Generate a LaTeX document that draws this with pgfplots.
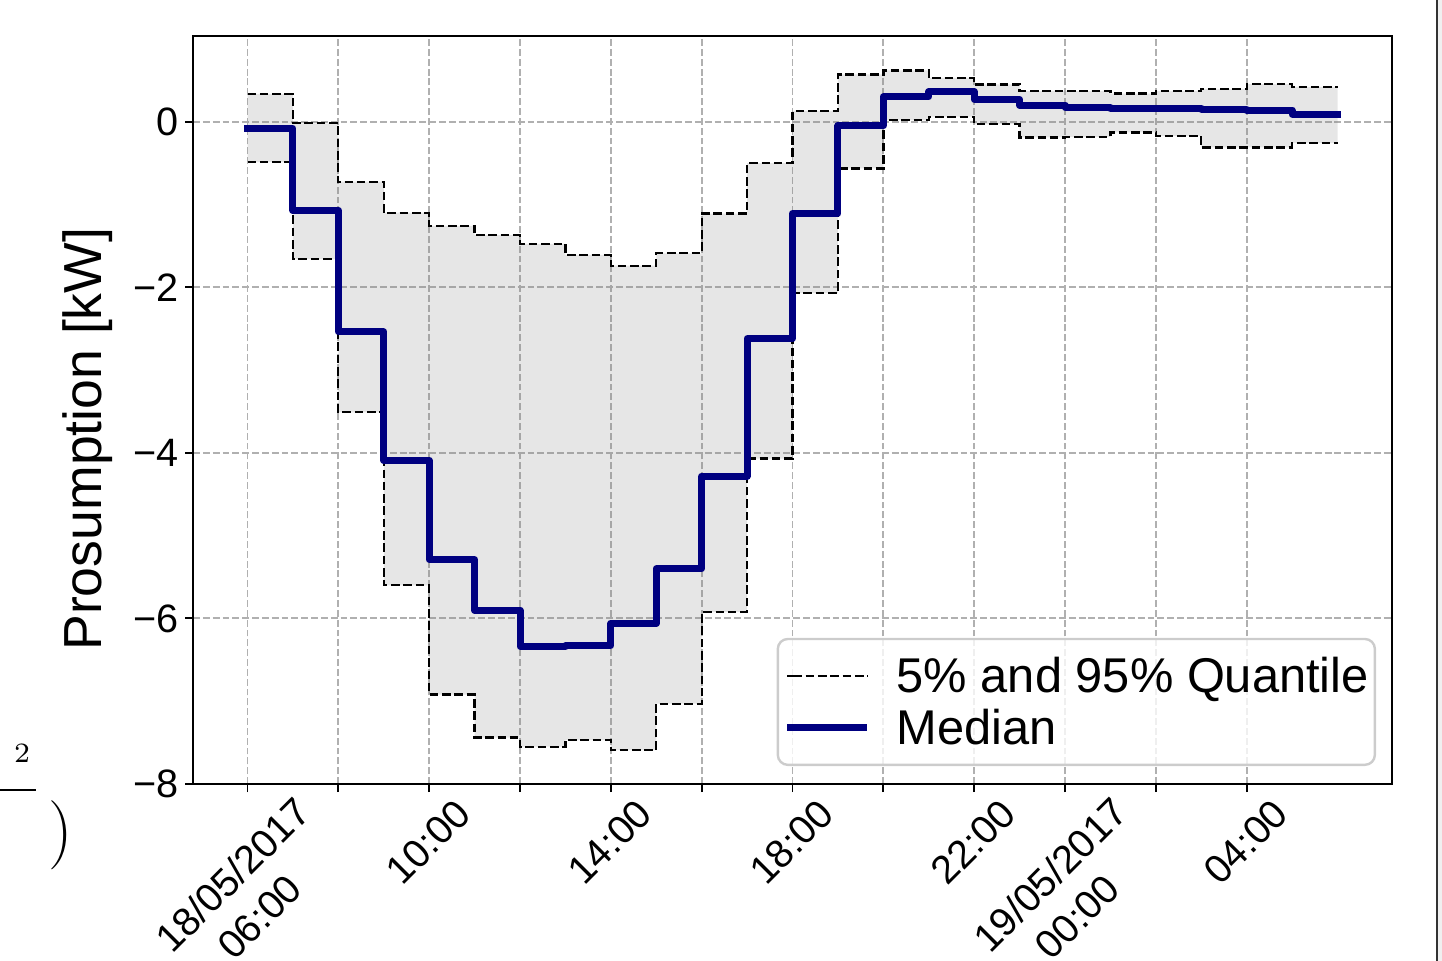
\documentclass[border=0pt]{standalone}
\usepackage{fontspec}
\setmainfont{Liberation Sans}
\usepackage{pgfplots}
\pgfplotsset{compat=1.18}
\usepgfplotslibrary{fillbetween}
\definecolor{gridgray}{HTML}{B0B0B0}
\definecolor{mednavy}{HTML}{000080}
\definecolor{leggray}{HTML}{CCCCCC}
\newcommand{\mi}{\symbol{"2212}}
\newcommand{\ls}{\rule[-0.25em]{0pt}{1.05em}}
\begin{document}
\begin{tikzpicture}
\begin{axis}[
  at={(0pt,0pt)}, anchor=south west,
  scale only axis,
  width=299.75pt, height=187pt,
  xmin=-1.2, xmax=25.2, ymin=-8, ymax=1.035,
  axis line style={black, line width=0.47pt},
  tick align=outside,
  major tick length=2pt,
  every tick/.style={black, line width=0.47pt},
  xtick pos=left, ytick pos=left,
  xtick={0,2,...,22},
  xticklabels={{},{},10:00,{},14:00,{},18:00,{},22:00,{},{},04:00},
  extra x ticks={0,18},
  extra x tick labels={{18/05/2017\\06:00\hspace*{5.5pt}},{19/05/2017\\00:00\hspace*{5.5pt}}},
  extra x tick style={xticklabel style={xshift=4.24pt, yshift=-3.18pt}},
  ytick={-8,-6,-4,-2,0},
  yticklabels={\mi8,\mi6,\mi4,\mi2,0},
  xticklabel style={font=\fontsize{9.9}{12.2}\selectfont, align=center, inner sep=0pt, xshift=6pt, yshift=-1pt, rotate=45, anchor=north east},
  yticklabel style={font=\fontsize{9.9}{11}\selectfont, inner sep=0pt, anchor=east, xshift=-1.5pt},
  grid=major,
  major grid style={gridgray, line width=0.47pt, dash pattern=on 1.72pt off 0.74pt},
  ylabel={Prosumption [kW]},
  ylabel style={font=\fontsize{13.4}{15}\selectfont, at={(axis description cs:-0.0876,0.461)}, anchor=center},
  legend cell align=left,
  legend image code/.code={\path (0pt,0pt) -- (1.5pt,0pt); \draw[#1] (1.5pt,0pt) -- (20pt,0pt);},
  legend style={at={(0.9867,0.024)}, anchor=south east, font=\fontsize{12.2}{13}\selectfont,
    draw=leggray, line width=0.6pt, rounded corners=2.5pt, fill=white, fill opacity=0.8,
    text opacity=1, draw opacity=1, inner xsep=1.5pt, inner ysep=3.6pt, row sep=1.75pt, column sep=6.5pt,
    nodes={inner sep=0pt}},
]
\addlegendimage{black, line width=0.58pt, dash pattern=on 2.15pt off 0.93pt}
\addlegendentry{\ls5\% and 95\% Quantile}
\addlegendimage{mednavy, line width=1.75pt}
\addlegendentry{\ls Median}

\addplot[const plot, name path=up, black, line width=0.58pt, dash pattern=on 2.15pt off 0.93pt, forget plot] coordinates {
(0,0.335) (1,-0.02) (2,-0.725) (3,-1.10) (4,-1.26) (5,-1.37) (6,-1.475) (7,-1.61)
(8,-1.74) (9,-1.59) (10,-1.11) (11,-0.50) (12,0.13) (13,0.57) (14,0.62) (15,0.53)
(16,0.45) (17,0.37) (18,0.37) (19,0.34) (20,0.37) (21,0.395) (22,0.455) (23,0.42) (24,0.42)};
\addplot[const plot, name path=lo, black, line width=0.58pt, dash pattern=on 2.15pt off 0.93pt, forget plot] coordinates {
(0,-0.49) (1,-1.66) (2,-3.51) (3,-5.60) (4,-6.92) (5,-7.44) (6,-7.55) (7,-7.47)
(8,-7.59) (9,-7.03) (10,-5.92) (11,-4.07) (12,-2.07) (13,-0.565) (14,0.02) (15,0.06)
(16,-0.03) (17,-0.19) (18,-0.185) (19,-0.13) (20,-0.17) (21,-0.31) (22,-0.31) (23,-0.26) (24,-0.26)};
\addplot[forget plot, fill=gray, fill opacity=0.2, draw=none] fill between[of=up and lo];
\addplot[const plot, mednavy, line width=1.75pt, line cap=rect, line join=round, forget plot] coordinates {
(0,-0.08) (1,-1.07) (2,-2.54) (3,-4.09) (4,-5.29) (5,-5.90) (6,-6.34) (7,-6.33)
(8,-6.06) (9,-5.40) (10,-4.28) (11,-2.62) (12,-1.11) (13,-0.05) (14,0.30) (15,0.36)
(16,0.27) (17,0.20) (18,0.17) (19,0.16) (20,0.16) (21,0.15) (22,0.14) (23,0.09) (24,0.09)};
\end{axis}
% page-edge artefacts of the screenshot
\fill[gray!12] (311.3pt,-44.25pt) rectangle (312.25pt,196pt);
\draw[black!80, line width=0.5pt] (311pt,-44.25pt) -- (311pt,196pt);
\draw[black, line width=0.5pt] (-48.25pt,-1.5pt) -- (-39.25pt,-1.5pt);
\node[inner sep=0pt] at (-42.75pt,7.75pt) {\fontsize{7.5}{8}\selectfont$2$};
\node[inner sep=0pt] at (-33pt,-12.75pt) {\fontsize{17.5}{20}\selectfont$)$};
\pgfresetboundingbox
\path[use as bounding box] (-48.25pt,-44.25pt) rectangle (312.25pt,196pt);
\end{tikzpicture}
\end{document}
